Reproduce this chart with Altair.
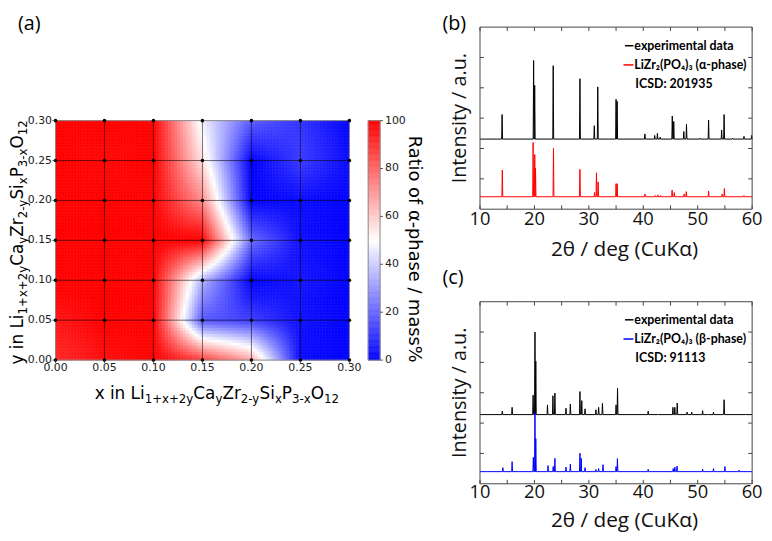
import altair as alt
import numpy as np
import pandas as pd

# ---------------- data: panel (a) ----------------
grid_x = [0.00, 0.05, 0.10, 0.15, 0.20, 0.25, 0.30]
grid_y = [0.00, 0.05, 0.10, 0.15, 0.20, 0.25, 0.30]
# ratio of alpha phase (mass%) at each grid point, one list per y row
ratio_y000 = [92, 97, 100, 89, 68, 2, 0]
ratio_y005 = [96, 100, 100, 17, 12, 3, 0]
ratio_y010 = [100, 100, 100, 35, 0, 4, 0]
ratio_y015 = [100, 100, 100, 100, 21, 3, 0]
ratio_y020 = [100, 100, 100, 73, 0, 2, 0]
ratio_y025 = [100, 98, 100, 56, 0, 12, 2]
ratio_y030 = [100, 100, 100, 47, 18, 10, 0]
a_ticks = [0.00, 0.05, 0.10, 0.15, 0.20, 0.25, 0.30]
cbar_ticks = [0, 20, 40, 60, 80, 100]

# ---------------- data: panels (b), (c) ----------------
xrd_labels = [10, 20, 30, 40, 50, 60]
xrd_ticks = [10, 15, 20, 25, 30, 35, 40, 45, 50, 55, 60]
int_ticks = [1, 2, 3, 4, 5]

b_exp_base = 2.31
b_exp_pos = [14.06, 19.85, 20.05, 23.45, 28.36, 31.0, 31.64, 35.0, 35.2, 40.3, 42.1, 42.6, 43.1,
             45.33, 45.6, 47.45, 47.94, 50.4, 52.0, 54.4, 54.85, 56.4, 58.5, 59.9]
b_exp_top = [3.12, 4.90, 4.08, 4.73, 4.30, 2.75, 4.03, 3.62, 3.55, 2.48, 2.43, 2.50, 2.37,
             3.07, 2.89, 2.56, 2.80, 2.34, 2.94, 2.61, 3.12, 2.34, 2.40, 2.43]
b_ref_base = 0.41
b_ref_pos = [14.1, 19.76, 20.06, 20.2, 23.5, 28.36, 31.05, 31.4, 31.7, 35.0, 35.2, 40.3, 42.2, 42.7,
             43.2, 45.3, 45.7, 47.5, 47.9, 52.0, 54.5, 54.9, 58.5]
b_ref_top = [1.29, 2.20, 1.80, 1.35, 2.00, 1.31, 0.55, 1.20, 0.90, 0.84, 0.84, 0.50, 0.45, 0.47,
             0.45, 0.63, 0.55, 0.50, 0.58, 0.60, 0.50, 0.68, 0.45]

c_exp_base = 2.28
c_exp_pos = [14.1, 15.9, 19.76, 20.1, 20.25, 22.4, 23.4, 23.76, 25.8, 26.6, 28.36, 28.7, 29.3,
             31.3, 31.8, 32.5, 35.0, 35.27, 40.9, 42.7, 45.45, 45.8, 46.24, 48.05, 48.9, 50.9,
             51.9, 52.9, 54.85, 58.8]
c_exp_top = [2.39, 2.52, 2.92, 5.00, 4.04, 2.60, 2.90, 2.99, 2.49, 2.63, 3.04, 2.74, 2.47,
             2.44, 2.52, 2.65, 2.60, 3.15, 2.39, 2.30, 2.52, 2.52, 2.66, 2.36, 2.36, 2.41,
             2.30, 2.36, 2.77, 2.30]
c_ref_base = 0.40
c_ref_pos = [14.2, 15.9, 19.8, 20.1, 20.25, 22.5, 23.45, 23.76, 25.8, 26.6, 28.36, 28.6, 29.3,
             31.3, 31.8, 32.6, 35.0, 35.25, 40.9, 45.5, 45.8, 46.2, 50.9, 52.9, 55.0, 57.6]
c_ref_top = [0.53, 0.73, 0.87, 2.34, 1.49, 0.60, 0.57, 0.84, 0.55, 0.65, 1.01, 0.84, 0.53,
             0.47, 0.50, 0.63, 0.57, 0.83, 0.48, 0.50, 0.55, 0.58, 0.48, 0.50, 0.57, 0.45]

# axis titles of panel (a): (text, is_subscript) pieces
x_title = [("x in Li", 0), ("1+x+2y", 1), ("Ca", 0), ("y", 1), ("Zr", 0), ("2-y", 1),
           ("Si", 0), ("x", 1), ("P", 0), ("3-x", 1), ("O", 0), ("12", 1)]
y_title = [("y in Li", 0), ("1+x+2y", 1), ("Ca", 0), ("y", 1), ("Zr", 0), ("2-y", 1),
           ("Si", 0), ("x", 1), ("P", 0), ("3-x", 1), ("O", 0), ("12", 1)]
cbar_title = "Ratio of α-phase / mass%"
xrd_xtitle = "2θ / deg (CuKα)"
xrd_ytitle = "Intensity / a.u."
b_legend = ["experimental data", "LiZr₂(PO₄)₃ (α-phase)", "ICSD: 201935"]
c_legend = ["experimental data", "LiZr₂(PO₄)₃ (β-phase)", "ICSD: 91113"]

# ---------------- tables ----------------
V = np.array([ratio_y000, ratio_y005, ratio_y010, ratio_y015, ratio_y020, ratio_y025, ratio_y030], float)
gx = np.array(grid_x); gy = np.array(grid_y)
step = gx[1] - gx[0]
nx, ny = 99, 81
xe = np.linspace(gx[0], gx[-1], nx + 1)
ye = np.linspace(gy[0], gy[-1], ny + 1)
xc = (xe[:-1] + xe[1:]) / 2
yc = (ye[:-1] + ye[1:]) / 2
XX, YY = np.meshgrid(xc, yc)
fx = np.clip((XX - gx[0]) / step, 0, len(gx) - 1.000001)
fy = np.clip((YY - gy[0]) / step, 0, len(gy) - 1.000001)
ix = fx.astype(int); iy = fy.astype(int)
tx = fx - ix; ty = fy - iy
VV = (V[iy, ix] * (1 - tx) * (1 - ty) + V[iy, ix + 1] * tx * (1 - ty)
      + V[iy + 1, ix] * (1 - tx) * ty + V[iy + 1, ix + 1] * tx * ty)
X0, Y0 = np.meshgrid(xe[:-1], ye[:-1])
X1, Y1 = np.meshgrid(xe[1:], ye[1:])
heat_df = pd.DataFrame({
    "x0": X0.ravel().round(5), "x1": X1.ravel().round(5),
    "y0": Y0.ravel().round(5), "y1": Y1.ravel().round(5),
    "v": VV.ravel().round(2)})

pts_df = pd.DataFrame([(a, b) for a in grid_x for b in grid_y], columns=["gx", "gy"])

cb_v = np.arange(0, 100, 0.5)
cb_df = pd.DataFrame({"v0": cb_v, "v1": cb_v + 0.5, "vm": cb_v + 0.25})


def pattern(base, pos, top, hw=0.08):
    xs = [10.0, 60.0]
    ys = [base, base]
    for p, t in zip(pos, top):
        xs += [p - hw, p, p + hw]
        ys += [base, t, base]
    df = pd.DataFrame({"tt": xs, "I": ys}).sort_values("tt", kind="stable").reset_index(drop=True)
    df["o"] = np.arange(len(df))
    return df


# ---------------- scales (pixel ranges) ----------------
sx_a = alt.Scale(domain=[0, 0.3], range=[48, 345], nice=False, zero=False)
sy_a = alt.Scale(domain=[0, 0.3], range=[353, 111], nice=False, zero=False)
sy_cb = alt.Scale(domain=[0, 100], range=[353, 111], nice=False, zero=False)
sx_x = alt.Scale(domain=[10, 60], range=[477, 752], nice=False, zero=False)
sy_b = alt.Scale(domain=[0, 6], range=[200.5, 16.5], nice=False, zero=False)
sy_c = alt.Scale(domain=[0, 6], range=[478, 294], nice=False, zero=False)
cscale = alt.Scale(domain=[0, 50, 100], range=["#0000ff", "#ffffff", "#ff0000"], interpolate="rgb")

one = pd.DataFrame({"d": [0]})
FA = "DejaVu Sans"
FB = "Open Sans"
FL = "Lato"

# DejaVu Sans advance widths (em) for the characters of the subscripted titles
DJV = {"x": .592, "y": .592, " ": .318, "i": .278, "n": .634, "L": .557, "C": .698, "a": .613,
       "Z": .685, "r": .411, "S": .635, "P": .603, "O": .787, "+": .838, "-": .361,
       "1": .636, "2": .636, "3": .636}


def text(t, x, y, **kw):
    return alt.Chart(pd.DataFrame({"t": [t]})).mark_text(**kw).encode(
        text="t:N", x=alt.value(x), y=alt.value(y))


def rich(pieces, x, y, angle, size=17.0, sub=0.7, drop=4.0):
    widths = [sum(DJV.get(c, .6) for c in s) * size * (sub if isub else 1) for s, isub in pieces]
    total = sum(widths)
    out = []
    pos = -total / 2
    for (s, isub), w in zip(pieces, widths):
        kw = dict(font=FA, fontSize=size * (sub if isub else 1), color="black", align="left",
                  baseline="alphabetic", dx=pos, dy=drop if isub else 0)
        if angle:
            kw["angle"] = angle
        out.append(text(s, x, y, **kw))
        pos += w
    return out


def box(x0, x1, y0, y1, color, width=1.0):
    return alt.Chart(one).mark_rect(filled=False, stroke=color, strokeWidth=width).encode(
        x=alt.value(x0), x2=alt.value(x1), y=alt.value(y0), y2=alt.value(y1))


layers = []

# ---- panel (a) heatmap ----
layers.append(alt.Chart(heat_df).mark_rect(strokeWidth=0.6).encode(
    x=alt.X("x0:Q", scale=sx_a, axis=None), x2="x1:Q",
    y=alt.Y("y0:Q", scale=sy_a, axis=None), y2="y1:Q",
    color=alt.Color("v:Q", scale=cscale, legend=None),
    stroke=alt.Stroke("v:Q", scale=cscale, legend=None)))
inner = pd.DataFrame({"g": grid_x[1:-1]})
layers.append(alt.Chart(inner).mark_rule(color="black", opacity=0.55, strokeWidth=1).encode(
    x=alt.X("g:Q", scale=sx_a, axis=None), y=alt.value(111), y2=alt.value(353)))
inner_y = pd.DataFrame({"g": grid_y[1:-1]})
layers.append(alt.Chart(inner_y).mark_rule(color="black", opacity=0.55, strokeWidth=1).encode(
    y=alt.Y("g:Q", scale=sy_a, axis=None), x=alt.value(48), x2=alt.value(345)))
layers.append(box(48, 345, 111, 353, "#8a8a8a", 1))
layers.append(alt.Chart(pts_df).mark_circle(size=13, color="black", opacity=1).encode(
    x=alt.X("gx:Q", scale=sx_a, axis=None), y=alt.Y("gy:Q", scale=sy_a, axis=None)))
tick_df = pd.DataFrame({"t": a_ticks})
layers.append(alt.Chart(tick_df).mark_rule(color="#333", strokeWidth=0.8).encode(
    y=alt.Y("t:Q", scale=sy_a, axis=None), x=alt.value(45), x2=alt.value(48)))
layers.append(alt.Chart(tick_df).mark_rule(color="#333", strokeWidth=0.8).encode(
    x=alt.X("t:Q", scale=sx_a, axis=None), y=alt.value(353), y2=alt.value(356)))
layers.append(alt.Chart(tick_df).mark_text(font=FA, fontSize=11, color="#222", align="right",
                                           baseline="middle").encode(
    y=alt.Y("t:Q", scale=sy_a, axis=None), x=alt.value(44.5), text=alt.Text("t:Q", format=".2f")))
layers.append(alt.Chart(tick_df).mark_text(font=FA, fontSize=11, color="#222", align="center",
                                           baseline="top").encode(
    x=alt.X("t:Q", scale=sx_a, axis=None), y=alt.value(355), text=alt.Text("t:Q", format=".2f")))
layers += rich(x_title, 211, 392, 0)
layers += rich(y_title, 15, 234, 270)

# ---- colorbar ----
layers.append(alt.Chart(cb_df).mark_rect(strokeWidth=0.6).encode(
    y=alt.Y("v0:Q", scale=sy_cb, axis=None), y2="v1:Q", x=alt.value(364), x2=alt.value(376),
    color=alt.Color("vm:Q", scale=cscale, legend=None),
    stroke=alt.Stroke("vm:Q", scale=cscale, legend=None)))
layers.append(box(364, 376, 111, 353, "#8a8a8a", 1))
cbt = pd.DataFrame({"t": cbar_ticks})
layers.append(alt.Chart(cbt).mark_rule(color="#333", strokeWidth=0.8).encode(
    y=alt.Y("t:Q", scale=sy_cb, axis=None), x=alt.value(376), x2=alt.value(379)))
layers.append(alt.Chart(cbt).mark_text(font=FA, fontSize=11, color="#222", align="left",
                                       baseline="middle").encode(
    y=alt.Y("t:Q", scale=sy_cb, axis=None), x=alt.value(381), text=alt.Text("t:Q")))
layers.append(text(cbar_title, 405, 241, font=FA, fontSize=18, color="black", align="center",
                   baseline="alphabetic", angle=90))
layers.append(text("(a)", 10, 3, font=FB, fontSize=20, color="black", align="left",
                   baseline="top"))


# ---- panels (b) and (c) ----
def xrd_panel(sy, top_px, bot_px, exp_df, ref_df, ref_color, legend, label, lab_y, title_y,
              leg_y, panel_y):
    out = []
    out.append(alt.Chart(exp_df).mark_line(color="black", strokeWidth=1).encode(
        x=alt.X("tt:Q", scale=sx_x, axis=None), y=alt.Y("I:Q", scale=sy, axis=None),
        order="o:Q"))
    out.append(alt.Chart(ref_df).mark_line(color=ref_color, strokeWidth=1).encode(
        x=alt.X("tt:Q", scale=sx_x, axis=None), y=alt.Y("I:Q", scale=sy, axis=None),
        order="o:Q"))
    out.append(box(477, 752, top_px, bot_px, "#444", 1))
    xt = pd.DataFrame({"t": xrd_ticks})
    out.append(alt.Chart(xt).mark_rule(color="#444", strokeWidth=1).encode(
        x=alt.X("t:Q", scale=sx_x, axis=None), y=alt.value(bot_px), y2=alt.value(bot_px - 4)))
    out.append(alt.Chart(xt).mark_rule(color="#444", strokeWidth=1).encode(
        x=alt.X("t:Q", scale=sx_x, axis=None), y=alt.value(top_px), y2=alt.value(top_px + 4)))
    yt = pd.DataFrame({"t": int_ticks})
    out.append(alt.Chart(yt).mark_rule(color="#444", strokeWidth=1).encode(
        y=alt.Y("t:Q", scale=sy, axis=None), x=alt.value(477), x2=alt.value(481)))
    out.append(alt.Chart(yt).mark_rule(color="#444", strokeWidth=1).encode(
        y=alt.Y("t:Q", scale=sy, axis=None), x=alt.value(752), x2=alt.value(748)))
    xl = pd.DataFrame({"t": xrd_labels})
    out.append(alt.Chart(xl).mark_text(font=FB, fontSize=18.5, color="#111", align="center",
                                       baseline="middle").encode(
        x=alt.X("t:Q", scale=sx_x, axis=None), y=alt.value(lab_y), text=alt.Text("t:Q")))
    out.append(text(xrd_xtitle, 623, title_y, font=FB, fontSize=21, color="#111",
                    align="center", baseline="middle"))
    out.append(text(xrd_ytitle, 457, (top_px + bot_px) / 2, font=FB, fontSize=20, color="#111",
                    align="center", baseline="middle", angle=270))
    # legend
    out.append(alt.Chart(one).mark_rule(color="black", strokeWidth=1.5).encode(
        x=alt.value(623.5), x2=alt.value(632), y=alt.value(leg_y)))
    out.append(alt.Chart(one).mark_rule(color=ref_color, strokeWidth=1.5).encode(
        x=alt.value(622), x2=alt.value(632), y=alt.value(leg_y + 19.4)))
    out.append(text(legend[0], 633, leg_y, font=FL, fontSize=12.5, fontWeight="bold",
                    color="black", align="left", baseline="middle"))
    out.append(text(legend[1], 633, leg_y + 19.4, font=FL, fontSize=12.5, fontWeight="bold",
                    color="black", align="left", baseline="middle"))
    out.append(text(legend[2], 634, leg_y + 38.6, font=FL, fontSize=12.5, fontWeight="bold",
                    color="black", align="left", baseline="middle"))
    out.append(text(label, 439, panel_y, font=FB, fontSize=20, color="black", align="left",
                    baseline="top"))
    return out


layers += xrd_panel(sy_b, 16.5, 200.5, pattern(b_exp_base, b_exp_pos, b_exp_top),
                    pattern(b_ref_base, b_ref_pos, b_ref_top), "#ff0000", b_legend, "(b)",
                    210, 242, 35.3, 3)
layers += xrd_panel(sy_c, 294, 478, pattern(c_exp_base, c_exp_pos, c_exp_top),
                    pattern(c_ref_base, c_ref_pos, c_ref_top), "#0000ff", c_legend, "(c)",
                    486.5, 516, 312.3, 260)

chart = alt.layer(*layers).resolve_scale(x="independent", y="independent").properties(
    width=764, height=533, padding=0, autosize=alt.AutoSizeParams(type="none"),
    background="white").configure_view(stroke=None)

chart.save("out.html", embed_options={"renderer": "svg", "actions": False})
